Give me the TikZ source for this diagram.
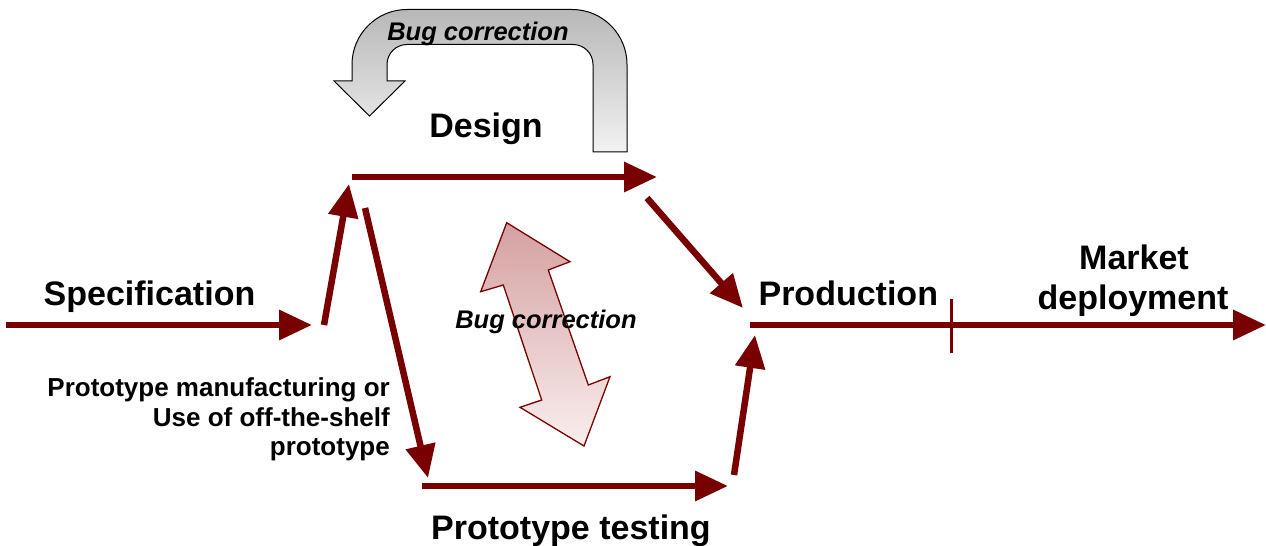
\documentclass[tikz,border=0pt]{standalone}
\usepackage{fontspec}
\setmainfont{Liberation Sans}
\usetikzlibrary{arrows.meta}
\definecolor{darkred}{RGB}{120,0,0}
\definecolor{pinktop}{RGB}{212,160,160}
\definecolor{pinkbot}{RGB}{250,238,238}
\tikzset{
  flow/.style={draw=darkred, line width=6.5pt, -{Triangle[length=33pt,width=29pt]}},
  bigtxt/.style={font=\fontsize{34}{40}\selectfont\bfseries, inner sep=0pt, anchor=base},
  smalltxt/.style={font=\fontsize{26}{30}\selectfont\bfseries, inner sep=0pt, anchor=base east, align=right},
  bugtxt/.style={font=\fontsize{25.5}{30}\selectfont\bfseries\itshape, inner sep=0pt, anchor=base},
  grayarrow/.style={draw=black, line width=1pt, top color=black!28, bottom color=black!5},
  pinkarrow/.style={draw=darkred, line width=1.3pt, top color=pinktop, bottom color=pinkbot},
}
\begin{document}
\begin{tikzpicture}[x=1pt,y=1pt]
\useasboundingbox (0,0) rectangle (1266,546);

% gray U-turn arrow
\draw[grayarrow] (593,394) -- (627,394) -- (627,481.5)
  arc[start angle=0,end angle=90,radius=55] -- (407,536.5)
  arc[start angle=90,end angle=180,radius=55] -- (352,465)
  -- (334,465) -- (369.5,430) -- (405,465) -- (387,465) -- (387,481.5)
  arc[start angle=180,end angle=90,radius=20] -- (573,501.5)
  arc[start angle=90,end angle=0,radius=20] -- cycle;
\node[bugtxt] (bugtop) at (478,505.3) {Bug correction};

% pink double arrow
\draw[pinkarrow] (506.7,323.3) -- (570,284.3) -- (548.3,276) -- (588.3,161)
  -- (610,169.3) -- (584,100) -- (520,138.7) -- (541.7,146) -- (503.3,261)
  -- (480.7,254.3) -- cycle;
\node[bugtxt] (bugmid) at (546,217.7) {Bug correction};

% coordinates
\coordinate (s0) at (6,221);     \coordinate (s1) at (312,221);
\coordinate (u0) at (324,221);   \coordinate (u1) at (349,362);
\coordinate (d0) at (365,338);   \coordinate (d1) at (428,68);
\coordinate (g0) at (352,369);   \coordinate (g1) at (657,369);
\coordinate (p0) at (647,348);   \coordinate (p1) at (743,238);
\coordinate (t0) at (422,60);    \coordinate (t1) at (728,60);
\coordinate (q0) at (734,71);    \coordinate (q1) at (755,211);
\coordinate (m0) at (750,221);   \coordinate (m1) at (1266,221);
\coordinate (k0) at (951,246.5); \coordinate (k1) at (951,193);

% arrows
\draw[flow] (s0) -- (s1);
\draw[flow] (u0) -- (u1);
\draw[flow] (d0) -- (d1);
\draw[flow] (g0) -- (g1);
\draw[flow] (p0) -- (p1);
\draw[flow] (t0) -- (t1);
\draw[flow] (q0) -- (q1);
\draw[flow] (m0) -- (m1);
\draw[darkred, line width=3pt] (k0) -- (k1);

% labels
\node[bigtxt] (spec) at (149.5,240) {Specification};
\node[bigtxt] (design) at (486,408.7) {Design};
\node[bigtxt] (prod) at (848.3,240.3) {Production};
\node[bigtxt] (market) at (1134,276) {Market};
\node[bigtxt] (deploy) at (1133,236) {deployment};
\node[bigtxt] (ptest) at (571,6) {Prototype testing};
\node[smalltxt] (pm1) at (390,149) {Prototype manufacturing or};
\node[smalltxt] (pm2) at (390,119.5) {Use of off-the-shelf};
\node[smalltxt] (pm3) at (390,90.5) {prototype};
\end{tikzpicture}
\end{document}
